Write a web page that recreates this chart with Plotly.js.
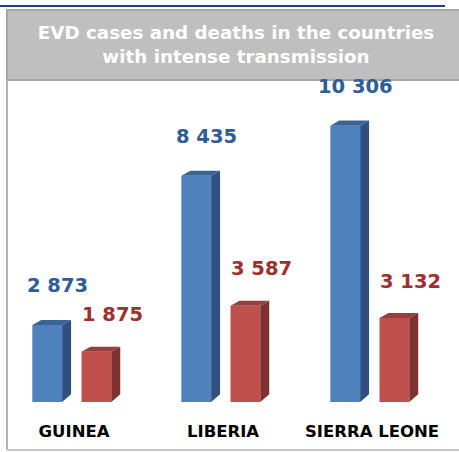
<!DOCTYPE html>
<html>
<head>
<meta charset="utf-8">
<script src="https://cdn.plot.ly/plotly-3.0.1.min.js"></script>
<style>html,body{margin:0;padding:0;background:#fff;}#chart{width:459px;height:452px;}</style>
</head>
<body>
<div id="chart"></div>
<script>
const countries = ["GUINEA", "LIBERIA", "SIERRA LEONE"];
const cases = [2873, 8435, 10306];
const deaths = [1875, 3587, 3132];
const caseLabels = ["2 873", "8 435", "10 306"];
const deathLabels = ["1 875", "3 587", "3 132"];

const W = 0.2, OFF_B = -0.28, OFF_R = 0.05;
const DX = 0.06, DY = 190;

function faces(vals, off, sideCol, topCol) {
  const s = [];
  vals.forEach((v, i) => {
    const x0 = i + off, x1 = x0 + W;
    s.push({type:'path', xref:'x', yref:'y', layer:'above', line:{width:0}, fillcolor:sideCol,
      path:`M ${x1},0 L ${x1+DX},${DY*1.5} L ${x1+DX},${v+DY} L ${x1},${v} Z`});
    s.push({type:'path', xref:'x', yref:'y', layer:'above', line:{width:0}, fillcolor:topCol,
      path:`M ${x0},${v} L ${x0+DX},${v+DY} L ${x1+DX},${v+DY} L ${x1},${v} Z`});
  });
  return s;
}

const traces = [
  {type:'bar', x:countries, y:cases, width:W, offset:OFF_B, marker:{color:'#4f81bd', line:{width:0}}, hoverinfo:'skip', name:'Cases'},
  {type:'bar', x:countries, y:deaths, width:W, offset:OFF_R, marker:{color:'#c0504d', line:{width:0}}, hoverinfo:'skip', name:'Deaths'}
];

const ann = [];
countries.forEach((c, i) => {
  ann.push({x: i + OFF_B + W/2, y: cases[i], xref:'x', yref:'y', text: caseLabels[i], showarrow:false,
    xshift: 10, yshift: 39, yanchor:'middle',
    font:{family:'DejaVu Sans', size:19.5, color:'#2e5c96', weight:'bold'}});
  ann.push({x: i + OFF_R + W/2, y: deaths[i], xref:'x', yref:'y', text: deathLabels[i], showarrow:false,
    xshift: 16, yshift: 37, yanchor:'middle',
    font:{family:'DejaVu Sans', size:19.5, color:'#a0302e', weight:'bold'}});
});

const shapes = [
  {type:'line', xref:'paper', yref:'paper', x0:-7/447, x1:438/447, y0:(402-6)/322, y1:(402-6)/322, line:{color:'#1f3d8c', width:2}},
  {type:'rect', xref:'paper', yref:'paper', x0:0, x1:460/447, y0:1, y1:(402-10)/322, fillcolor:'#bfbfbf', line:{color:'#a6a6a6', width:2}, layer:'below'},
  {type:'line', xref:'paper', yref:'paper', x0:0, x1:0, y0:1, y1:(402-450)/322, line:{color:'#b3b3b3', width:2}},
  {type:'line', xref:'paper', yref:'paper', x0:0, x1:452/447, y0:(402-450)/322, y1:(402-450)/322, line:{color:'#c8c8c8', width:2}}
].concat(faces(cases, OFF_B, '#2f5080', '#3a6496'), faces(deaths, OFF_R, '#7f3030', '#94403c'));

const layout = {
  width:459, height:452,
  margin:{l:7, r:5, t:80, b:50},
  paper_bgcolor:'#ffffff', plot_bgcolor:'rgba(0,0,0,0)',
  showlegend:false,
  barmode:'overlay',
  title:{text:'EVD cases and deaths in the countries<br>with intense transmission',
    x:236/459, xanchor:'center', y:1-39/452, yanchor:'middle', yref:'container',
    font:{family:'DejaVu Sans', size:18.3, color:'#ffffff', weight:'bold'}},
  xaxis:{type:'category', range:[-0.45, 2.55], showgrid:false, zeroline:false, showline:false,
    ticks:'outside', ticklen:14, tickcolor:'rgba(0,0,0,0)',
    tickfont:{family:'DejaVu Sans', size:16.5, color:'#000000', weight:'bold'}, fixedrange:true},
  yaxis:{range:[0, 12010], showgrid:false, zeroline:false, showline:false, showticklabels:false, ticks:'', fixedrange:true},
  annotations: ann,
  shapes: shapes
};

Plotly.newPlot('chart', traces, layout, {displayModeBar:false, staticPlot:true});
</script>
</body>
</html>
